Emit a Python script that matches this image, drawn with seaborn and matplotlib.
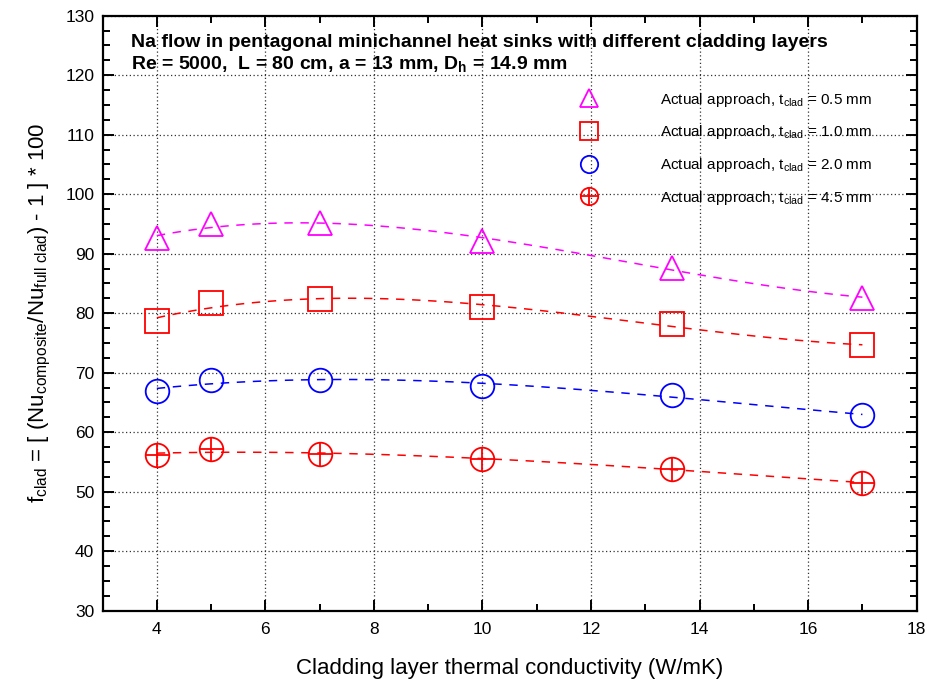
import matplotlib
matplotlib.use("Agg")
import matplotlib.pyplot as plt
from matplotlib.lines import Line2D
from matplotlib.legend_handler import HandlerTuple
import numpy as np
import pandas as pd
import seaborn as sns

# ---------------- data ----------------
k_clad = [4, 5, 7, 10, 13.5, 17]
f_t05 = [92.6, 95.0, 95.2, 92.2, 87.6, 82.6]
f_t10 = [78.7, 81.7, 82.35, 81.0, 78.1, 74.6]
f_t20 = [66.9, 68.8, 68.8, 67.8, 66.2, 62.9]
f_t45 = [56.2, 57.1, 56.3, 55.5, 53.8, 51.5]

labels = [r"Actual approach, t$_{\mathrm{clad}}$ = 0.5 mm",
          r"Actual approach, t$_{\mathrm{clad}}$ = 1.0 mm",
          r"Actual approach, t$_{\mathrm{clad}}$ = 2.0 mm",
          r"Actual approach, t$_{\mathrm{clad}}$ = 4.5 mm"]
colors = ["#FF00FF", "#FF0000", "#0000FF", "#FF0000"]
markers = ["^", "s", "o", "o"]
series = [f_t05, f_t10, f_t20, f_t45]

xticks = [4, 6, 8, 10, 12, 14, 16, 18]
yticks = [30, 40, 50, 60, 70, 80, 90, 100, 110, 120, 130]

# ---------------- style ----------------
sns.set_style("ticks")
plt.rcParams["font.family"] = ["Liberation Sans", "DejaVu Sans"]
plt.rcParams["mathtext.fontset"] = "custom"
plt.rcParams["mathtext.rm"] = "Liberation Sans"
plt.rcParams["mathtext.it"] = "Liberation Sans:italic"
plt.rcParams["mathtext.bf"] = "Liberation Sans:bold"
plt.rcParams["text.color"] = "black"
plt.rcParams["axes.labelcolor"] = "black"

fig = plt.figure(figsize=(9.28, 6.79), dpi=100)
ax = fig.add_axes([0.1105, 0.1006, 0.8773, 0.8763])

ms = 17
handles = []
for vals, col, mk, lab in zip(series, colors, markers, labels):
    df = pd.DataFrame({"k": k_clad, "f": vals})
    sns.regplot(data=df, x="k", y="f", order=3, ci=None, scatter=False,
                truncate=True, ax=ax,
                line_kws=dict(color=col, lw=1.1, ls=(0, (5.5, 5))))
    sns.lineplot(data=df, x="k", y="f", ax=ax, linestyle="none", marker=mk,
                 markersize=ms, markerfacecolor="none",
                 markeredgecolor=col, markeredgewidth=1.3, color=col,
                 zorder=3)
    h = Line2D([], [], linestyle="none", marker=mk, markersize=12.5,
               markerfacecolor="none", markeredgecolor=col,
               markeredgewidth=1.3)
    handles.append(h)

# crosshair overlay on the last series
df45 = pd.DataFrame({"k": k_clad, "f": f_t45})
sns.lineplot(data=df45, x="k", y="f", ax=ax, linestyle="none", marker="+",
             markersize=ms, markeredgecolor=colors[3], markeredgewidth=1.3,
             color=colors[3], zorder=3)
plus_h = Line2D([], [], linestyle="none", marker="+", markersize=12.5,
                markeredgecolor=colors[3], markeredgewidth=1.3)
handles[3] = (handles[3], plus_h)

ax.set_xlim(3, 18)
ax.set_ylim(30, 130)
ax.set_xticks(xticks)
ax.set_yticks(yticks)
ax.set_xticks(np.arange(3, 18.5, 1), minor=True)
ax.set_yticks(np.arange(30, 130.1, 2.5), minor=True)
ax.grid(True, which="major", color="#333333", lw=0.9, ls=(0, (1, 2)))
ax.tick_params(which="both", direction="in", top=True, right=True,
               labelsize=12.5, width=1.4, colors="black")
ax.tick_params(which="major", length=8)
ax.tick_params(which="minor", length=5)
ax.tick_params(axis="x", pad=8)
ax.tick_params(axis="y", pad=6)
for sp in ax.spines.values():
    sp.set_linewidth(1.6)
    sp.set_color("black")

ax.set_xlabel("Cladding layer thermal conductivity (W/mK)", fontsize=16,
              labelpad=15)
ax.set_ylabel(r"f$_{\mathrm{clad}}$ = [ (Nu$_{\mathrm{composite}}$/Nu$_{\mathrm{full\ clad}}$) - 1 ] * 100",
              fontsize=16, labelpad=9)

ax.text(0.035, 0.955,
        "Na flow in pentagonal minichannel heat sinks with different cladding layers",
        transform=ax.transAxes, fontsize=14, fontweight="bold", va="center")
ax.text(0.035, 0.918,
        r"Re = 5000,  L = 80 cm, a = 13 mm, $\mathbf{D}_\mathbf{h}$ = 14.9 mm",
        transform=ax.transAxes, fontsize=14, fontweight="bold", va="center")

leg = ax.legend(handles, labels, loc="upper left",
                bbox_to_anchor=(0.566, 0.897), frameon=False,
                fontsize=11, handlelength=1.6, handletextpad=3.8,
                labelspacing=0.96,
                handler_map={tuple: HandlerTuple(ndivide=1, pad=0)})

fig.savefig("out.png", dpi=100)
